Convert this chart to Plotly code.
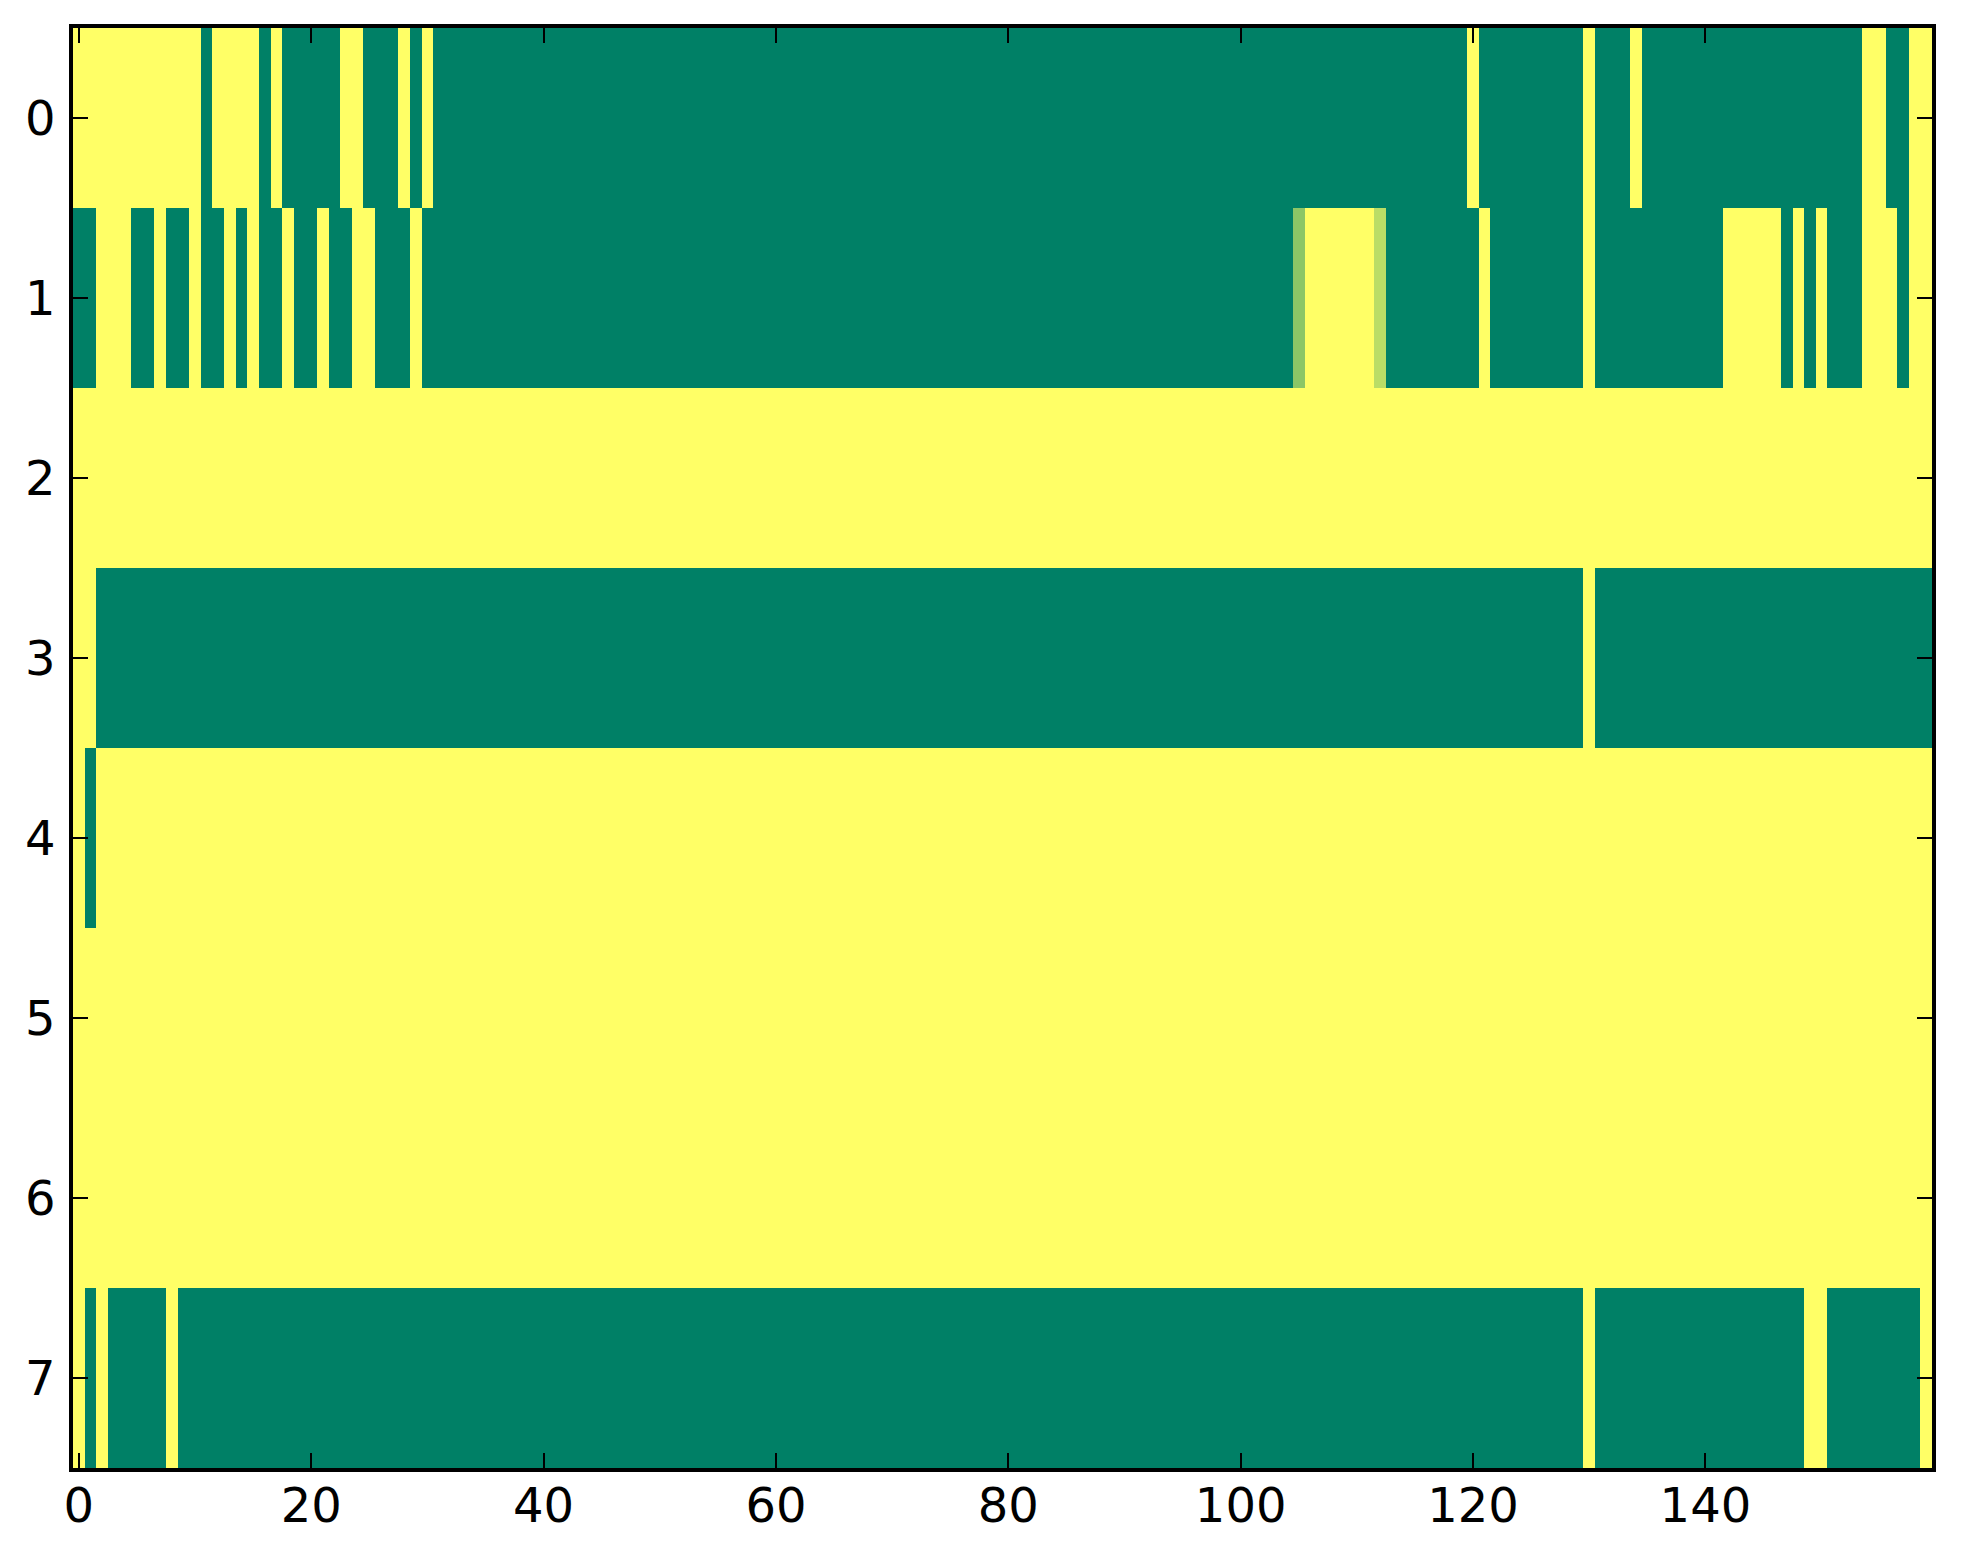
import plotly.graph_objects as go

# one list per image row (0 = dark green, 1 = yellow), 160 columns each
row_0 = [1, 1, 1, 1, 1, 1, 1, 1, 1, 1, 1, 0, 1, 1, 1, 1, 0, 1, 0, 0,
         0, 0, 0, 1, 1, 0, 0, 0, 1, 0, 1, 0, 0, 0, 0, 0, 0, 0, 0, 0,
         0, 0, 0, 0, 0, 0, 0, 0, 0, 0, 0, 0, 0, 0, 0, 0, 0, 0, 0, 0,
         0, 0, 0, 0, 0, 0, 0, 0, 0, 0, 0, 0, 0, 0, 0, 0, 0, 0, 0, 0,
         0, 0, 0, 0, 0, 0, 0, 0, 0, 0, 0, 0, 0, 0, 0, 0, 0, 0, 0, 0,
         0, 0, 0, 0, 0, 0, 0, 0, 0, 0, 0, 0, 0, 0, 0, 0, 0, 0, 0, 0,
         1, 0, 0, 0, 0, 0, 0, 0, 0, 0, 1, 0, 0, 0, 1, 0, 0, 0, 0, 0,
         0, 0, 0, 0, 0, 0, 0, 0, 0, 0, 0, 0, 0, 0, 1, 1, 0, 0, 1, 1]
row_1 = [0, 0, 1, 1, 1, 0, 0, 1, 0, 0, 1, 0, 0, 1, 0, 1, 0, 0, 1, 0,
         0, 1, 0, 0, 1, 1, 0, 0, 0, 1, 0, 0, 0, 0, 0, 0, 0, 0, 0, 0,
         0, 0, 0, 0, 0, 0, 0, 0, 0, 0, 0, 0, 0, 0, 0, 0, 0, 0, 0, 0,
         0, 0, 0, 0, 0, 0, 0, 0, 0, 0, 0, 0, 0, 0, 0, 0, 0, 0, 0, 0,
         0, 0, 0, 0, 0, 0, 0, 0, 0, 0, 0, 0, 0, 0, 0, 0, 0, 0, 0, 0,
         0, 0, 0, 0, 0, 0.55, 1, 1, 1, 1, 1, 1, 0.73, 0, 0, 0, 0, 0, 0, 0,
         0, 1, 0, 0, 0, 0, 0, 0, 0, 0, 1, 0, 0, 0, 0, 0, 0, 0, 0, 0,
         0, 0, 1, 1, 1, 1, 1, 0, 1, 0, 1, 0, 0, 0, 1, 1, 1, 0, 1, 1]
row_2 = [1, 1, 1, 1, 1, 1, 1, 1, 1, 1, 1, 1, 1, 1, 1, 1, 1, 1, 1, 1,
         1, 1, 1, 1, 1, 1, 1, 1, 1, 1, 1, 1, 1, 1, 1, 1, 1, 1, 1, 1,
         1, 1, 1, 1, 1, 1, 1, 1, 1, 1, 1, 1, 1, 1, 1, 1, 1, 1, 1, 1,
         1, 1, 1, 1, 1, 1, 1, 1, 1, 1, 1, 1, 1, 1, 1, 1, 1, 1, 1, 1,
         1, 1, 1, 1, 1, 1, 1, 1, 1, 1, 1, 1, 1, 1, 1, 1, 1, 1, 1, 1,
         1, 1, 1, 1, 1, 1, 1, 1, 1, 1, 1, 1, 1, 1, 1, 1, 1, 1, 1, 1,
         1, 1, 1, 1, 1, 1, 1, 1, 1, 1, 1, 1, 1, 1, 1, 1, 1, 1, 1, 1,
         1, 1, 1, 1, 1, 1, 1, 1, 1, 1, 1, 1, 1, 1, 1, 1, 1, 1, 1, 1]
row_3 = [1, 1, 0, 0, 0, 0, 0, 0, 0, 0, 0, 0, 0, 0, 0, 0, 0, 0, 0, 0,
         0, 0, 0, 0, 0, 0, 0, 0, 0, 0, 0, 0, 0, 0, 0, 0, 0, 0, 0, 0,
         0, 0, 0, 0, 0, 0, 0, 0, 0, 0, 0, 0, 0, 0, 0, 0, 0, 0, 0, 0,
         0, 0, 0, 0, 0, 0, 0, 0, 0, 0, 0, 0, 0, 0, 0, 0, 0, 0, 0, 0,
         0, 0, 0, 0, 0, 0, 0, 0, 0, 0, 0, 0, 0, 0, 0, 0, 0, 0, 0, 0,
         0, 0, 0, 0, 0, 0, 0, 0, 0, 0, 0, 0, 0, 0, 0, 0, 0, 0, 0, 0,
         0, 0, 0, 0, 0, 0, 0, 0, 0, 0, 1, 0, 0, 0, 0, 0, 0, 0, 0, 0,
         0, 0, 0, 0, 0, 0, 0, 0, 0, 0, 0, 0, 0, 0, 0, 0, 0, 0, 0, 0]
row_4 = [1, 0, 1, 1, 1, 1, 1, 1, 1, 1, 1, 1, 1, 1, 1, 1, 1, 1, 1, 1,
         1, 1, 1, 1, 1, 1, 1, 1, 1, 1, 1, 1, 1, 1, 1, 1, 1, 1, 1, 1,
         1, 1, 1, 1, 1, 1, 1, 1, 1, 1, 1, 1, 1, 1, 1, 1, 1, 1, 1, 1,
         1, 1, 1, 1, 1, 1, 1, 1, 1, 1, 1, 1, 1, 1, 1, 1, 1, 1, 1, 1,
         1, 1, 1, 1, 1, 1, 1, 1, 1, 1, 1, 1, 1, 1, 1, 1, 1, 1, 1, 1,
         1, 1, 1, 1, 1, 1, 1, 1, 1, 1, 1, 1, 1, 1, 1, 1, 1, 1, 1, 1,
         1, 1, 1, 1, 1, 1, 1, 1, 1, 1, 1, 1, 1, 1, 1, 1, 1, 1, 1, 1,
         1, 1, 1, 1, 1, 1, 1, 1, 1, 1, 1, 1, 1, 1, 1, 1, 1, 1, 1, 1]
row_5 = list(row_2)
row_6 = list(row_2)
row_7 = [1, 0, 1, 0, 0, 0, 0, 0, 1, 0, 0, 0, 0, 0, 0, 0, 0, 0, 0, 0,
         0, 0, 0, 0, 0, 0, 0, 0, 0, 0, 0, 0, 0, 0, 0, 0, 0, 0, 0, 0,
         0, 0, 0, 0, 0, 0, 0, 0, 0, 0, 0, 0, 0, 0, 0, 0, 0, 0, 0, 0,
         0, 0, 0, 0, 0, 0, 0, 0, 0, 0, 0, 0, 0, 0, 0, 0, 0, 0, 0, 0,
         0, 0, 0, 0, 0, 0, 0, 0, 0, 0, 0, 0, 0, 0, 0, 0, 0, 0, 0, 0,
         0, 0, 0, 0, 0, 0, 0, 0, 0, 0, 0, 0, 0, 0, 0, 0, 0, 0, 0, 0,
         0, 0, 0, 0, 0, 0, 0, 0, 0, 0, 1, 0, 0, 0, 0, 0, 0, 0, 0, 0,
         0, 0, 0, 0, 0, 0, 0, 0, 0, 1, 1, 0, 0, 0, 0, 0, 0, 0, 0, 1]

x_ticks = [0, 20, 40, 60, 80, 100, 120, 140]
y_ticks = [0, 1, 2, 3, 4, 5, 6, 7]

# matplotlib "summer": green (0, .5, .4) -> yellow (1, 1, .4)
SUMMER = [[0.0, '#008066'], [1.0, '#ffff66']]

z = [row_0, row_1, row_2, row_3, row_4, row_5, row_6, row_7]

fig = go.Figure()
fig.add_trace(go.Heatmap(
    z=z,
    x=list(range(len(row_0))),
    y=y_ticks,
    colorscale=SUMMER,
    zmin=0,
    zmax=1,
    showscale=False,
    hoverinfo='skip'
))

axis_style = dict(
    ticks='inside',
    ticklen=15,
    tickwidth=1.5,
    tickcolor='black',
    showline=True,
    linewidth=3.5,
    linecolor='black',
    mirror='ticks',
    showgrid=False,
    zeroline=False,
    tickfont=dict(size=48, color='black', family='DejaVu Sans'),
)

fig.update_xaxes(
    range=[-0.5, 159.5],
    tickmode='array',
    tickvals=x_ticks,
    ticktext=[str(t) for t in x_ticks],
    ticklabelstandoff=-7,
    **axis_style
)
fig.update_yaxes(
    range=[7.5, -0.5],
    tickmode='array',
    tickvals=y_ticks,
    ticktext=[str(t) for t in y_ticks],
    ticklabelstandoff=4,
    **axis_style
)

# the page body adds an 8px offset, so the figure is a bit smaller than the window
fig.update_layout(
    width=1947,
    height=1548,
    autosize=False,
    plot_bgcolor='white',
    paper_bgcolor='white',
    margin=dict(l=65, r=23, t=20, b=88),
    font=dict(family='DejaVu Sans', color='black')
)

fig.write_html("out.html")
